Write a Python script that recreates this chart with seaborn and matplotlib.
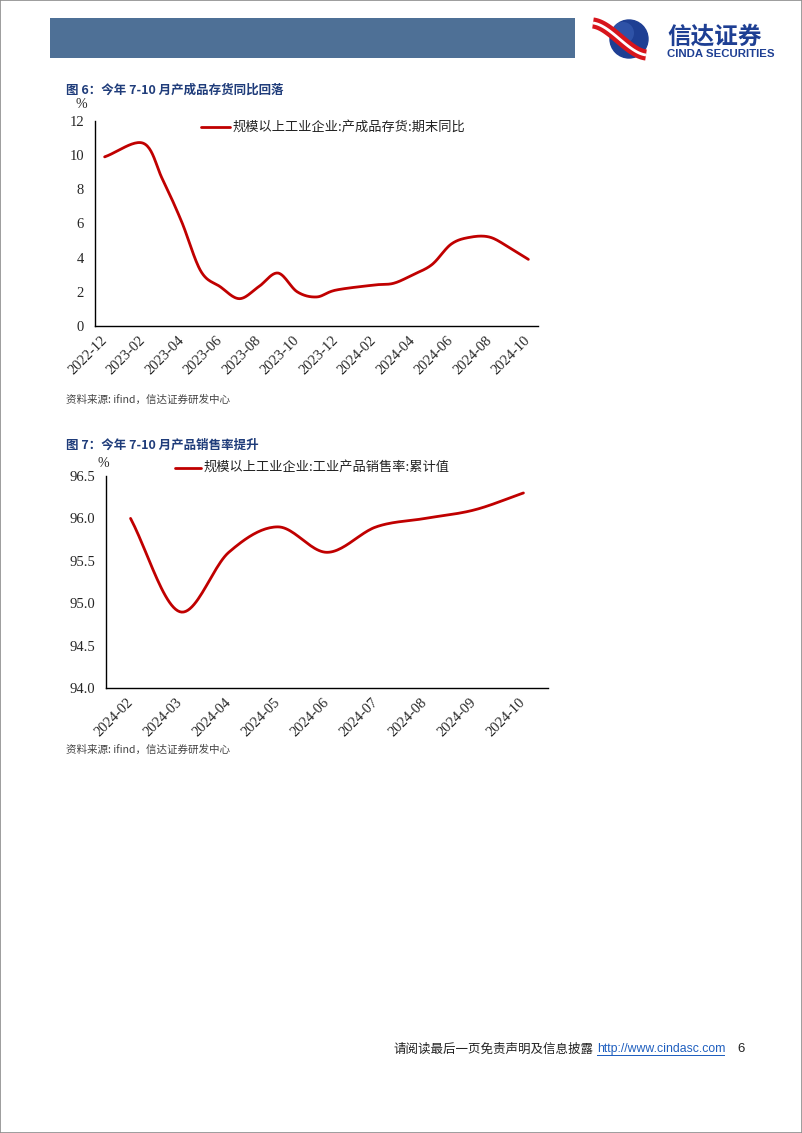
import numpy as np
import pandas as pd
import matplotlib
matplotlib.use("Agg")
import matplotlib.pyplot as plt
import seaborn as sns
from matplotlib.patches import Rectangle, Circle

# 图6: 规模以上工业企业 产成品存货 期末同比 (%), 1月无数据
inv_months = ["2022-12", "2023-02", "2023-03", "2023-04", "2023-05", "2023-06",
              "2023-07", "2023-08", "2023-09", "2023-10", "2023-11", "2023-12",
              "2024-02", "2024-03", "2024-04", "2024-05", "2024-06", "2024-07",
              "2024-08", "2024-09", "2024-10"]
inv_yoy = [9.9, 10.7, 8.6, 6.1, 3.2, 2.3, 1.6, 2.3, 3.1, 2.0, 1.7, 2.1,
           2.4, 2.5, 3.0, 3.6, 4.8, 5.2, 5.2, 4.6, 3.9]
inv_ticks = ["2022-12", "2023-02", "2023-04", "2023-06", "2023-08", "2023-10",
             "2023-12", "2024-02", "2024-04", "2024-06", "2024-08", "2024-10"]

# 图7: 规模以上工业企业 工业产品销售率 累计值 (%)
sales_months = ["2024-02", "2024-03", "2024-04", "2024-05", "2024-06",
                "2024-07", "2024-08", "2024-09", "2024-10"]
sales_rate = [96.0, 94.9, 95.6, 95.9, 95.6, 95.9, 96.0, 96.1, 96.3]

RED = "#C00000"
NAVY = "#1F3C7A"
CJK = ["Noto Sans CJK SC", "DejaVu Sans"]
SERIF = ["Liberation Serif", "DejaVu Serif"]
SANS = ["Liberation Sans", "DejaVu Sans"]


def month_index(labels, start):
    y0, m0 = map(int, start.split("-"))
    out = []
    for s in labels:
        y, m = map(int, s.split("-"))
        out.append((y - y0) * 12 + (m - m0))
    return np.array(out, dtype=float)


def smooth(x, y, n=24):
    # Excel-like smoothed line (Catmull-Rom through the data points)
    x = np.asarray(x, float)
    y = np.asarray(y, float)
    px = np.r_[2 * x[0] - x[1], x, 2 * x[-1] - x[-2]]
    py = np.r_[2 * y[0] - y[1], y, 2 * y[-1] - y[-2]]
    t = np.linspace(0, 1, n, endpoint=False)[:, None]
    pts = []
    for i in range(1, len(px) - 2):
        p0 = np.array([px[i - 1], py[i - 1]])
        p1 = np.array([px[i], py[i]])
        p2 = np.array([px[i + 1], py[i + 1]])
        p3 = np.array([px[i + 2], py[i + 2]])
        c1 = p1 + (p2 - p0) / 6
        c2 = p2 - (p3 - p1) / 6
        seg = ((1 - t) ** 3) * p1 + 3 * ((1 - t) ** 2) * t * c1 \
            + 3 * (1 - t) * t ** 2 * c2 + t ** 3 * p2
        pts.append(seg)
    pts.append(np.array([[x[-1], y[-1]]]))
    pts = np.vstack(pts)
    return pd.DataFrame({"x": pts[:, 0], "y": pts[:, 1]})


def style_axes(ax, bounds, centers, labels):
    for side in ["top", "right"]:
        ax.spines[side].set_visible(False)
    for side in ["left", "bottom"]:
        ax.spines[side].set_color("black")
        ax.spines[side].set_linewidth(1.0)
    # tick marks sit between months, labels under the month itself
    ax.set_xticks(bounds)
    ax.set_xticklabels([])
    ax.set_xticks(centers, minor=True)
    ax.set_xticklabels(labels, minor=True, rotation=45, ha="right",
                       va="center", rotation_mode="anchor", family=SERIF,
                       fontsize=10.5)
    ax.tick_params(axis="x", which="minor", length=0, pad=9)
    ax.tick_params(axis="both", which="major", direction="out", length=5,
                   width=1, color="black", labelsize=10.5, pad=3)
    for lab in ax.get_yticklabels():
        lab.set_family(SERIF)
    ax.grid(False)
    ax.set_xlabel("")
    ax.set_ylabel("")


sns.set_theme(style="white")
plt.rcParams["font.family"] = CJK
plt.rcParams["axes.unicode_minus"] = False

fig = plt.figure(figsize=(8.02, 11.33), dpi=100)
W, H = 802, 1133


def fx(px):
    return px / W


def fy(py):
    return 1 - py / H


# page frame
fig.add_artist(Rectangle((0, 0), 1, 1, transform=fig.transFigure, fill=False,
                         edgecolor="#8C8C8C", linewidth=1.2))

# header bar + logo
fig.add_artist(Rectangle((fx(50), fy(58)), fx(575) - fx(50), fy(18) - fy(58),
                         transform=fig.transFigure, facecolor="#4E7096",
                         edgecolor="none"))
logo = fig.add_axes([fx(585), fy(65), fx(75), fy(15) - fy(65)])
logo.set_xlim(585, 660)
logo.set_ylim(65, 15)
logo.axis("off")
logo.add_patch(Circle((629, 39), 19, color="#1E3F93"))
logo.add_patch(Circle((623, 33), 11, color="#3D63B8", alpha=0.55, lw=0))
rx = np.linspace(593, 646, 60)
s = (rx - 593) / 53
ry = 23 + 32 * (0.8 * (3 * s ** 2 - 2 * s ** 3) + 0.2 * s)
logo.plot(rx, ry, color="#D7151C", lw=8, solid_capstyle="butt")
logo.plot(rx, ry, color="white", lw=2, solid_capstyle="butt")
fig.text(fx(667), fy(44), "信达证券", fontsize=17, fontweight="bold",
         color="#1E3F93", va="baseline", ha="left", family=CJK)
fig.text(fx(667), fy(57), "CINDA SECURITIES", fontsize=8.2, fontweight="bold",
         color="#1E3F93", va="baseline", ha="left", family=SANS)

# ---------------- 图6 ----------------
fig.text(fx(66), fy(90), "图 6：今年 7-10 月产成品存货同比回落", fontsize=9,
         fontweight="bold", color=NAVY, va="center", ha="left", family=CJK)

ax1 = fig.add_axes([fx(95), fy(326), fx(538) - fx(95), fy(121) - fy(326)])
x1 = month_index(inv_months, "2022-12")
d1 = smooth(x1, inv_yoy)
sns.lineplot(data=d1, x="x", y="y", ax=ax1, color=RED, linewidth=2.0,
             sort=False, estimator=None)
ax1.set_xlim(-0.5, 22.5)
ax1.set_ylim(0, 12)
ax1.set_yticks(np.arange(0, 13, 2))
tick_centers1 = month_index(inv_ticks, "2022-12")
style_axes(ax1, tick_centers1 - 0.5, tick_centers1, inv_ticks)
ax1.text(-0.03, 1.08, "%", transform=ax1.transAxes, fontsize=10, family=SERIF,
         ha="center", va="center")
ax1.plot([0.24, 0.305], [0.97, 0.97], transform=ax1.transAxes, color=RED,
         lw=2.0, clip_on=False)
ax1.text(0.31, 0.97, "规模以上工业企业:产成品存货:期末同比", transform=ax1.transAxes,
         fontsize=9.5, va="center", ha="left", family=CJK, color="#222222")

fig.text(fx(66), fy(400), "资料来源: ifind，信达证券研发中心", fontsize=7.6,
         style="italic", color="#444444", va="center", ha="left", family=CJK)

# ---------------- 图7 ----------------
fig.text(fx(66), fy(445), "图 7：今年 7-10 月产品销售率提升", fontsize=9,
         fontweight="bold", color=NAVY, va="center", ha="left", family=CJK)

ax2 = fig.add_axes([fx(106), fy(688), fx(548) - fx(106), fy(476) - fy(688)])
x2 = month_index(sales_months, "2024-02")
d2 = smooth(x2, sales_rate)
sns.lineplot(data=d2, x="x", y="y", ax=ax2, color=RED, linewidth=2.0,
             sort=False, estimator=None)
ax2.set_xlim(-0.5, len(sales_months) - 0.5)
ax2.set_ylim(94.0, 96.5)
yt2 = np.arange(94.0, 96.51, 0.5)
ax2.set_yticks(yt2)
ax2.set_yticklabels([f"{v:.1f}" for v in yt2])
style_axes(ax2, np.r_[x2 - 0.5, x2[-1] + 0.5], x2, sales_months)
ax2.text(-0.005, 1.06, "%", transform=ax2.transAxes, fontsize=10, family=SERIF,
         ha="center", va="center")
ax2.plot([0.155, 0.215], [1.04, 1.04], transform=ax2.transAxes, color=RED,
         lw=2.0, clip_on=False)
ax2.text(0.22, 1.04, "规模以上工业企业:工业产品销售率:累计值", transform=ax2.transAxes,
         fontsize=9.5, va="center", ha="left", family=CJK, color="#222222")

fig.text(fx(66), fy(750), "资料来源: ifind，信达证券研发中心", fontsize=7.6,
         style="italic", color="#444444", va="center", ha="left", family=CJK)

# footer
fig.text(fx(593), fy(1049), "请阅读最后一页免责声明及信息披露", fontsize=9,
         color="#222222", va="center", ha="right", family=CJK)
fig.text(fx(597), fy(1049), "http://www.cindasc.com", fontsize=8.8,
         color="#1F5FBF", va="center", ha="left", family=SANS)
fig.add_artist(Rectangle((fx(597), fy(1056)), fx(725) - fx(597), 0.0007,
                         transform=fig.transFigure, facecolor="#1F5FBF",
                         edgecolor="none"))
fig.text(fx(741), fy(1049), "6", fontsize=9.5, color="#222222", va="center",
         ha="center", family=SANS)

fig.savefig("out.png", dpi=100)
